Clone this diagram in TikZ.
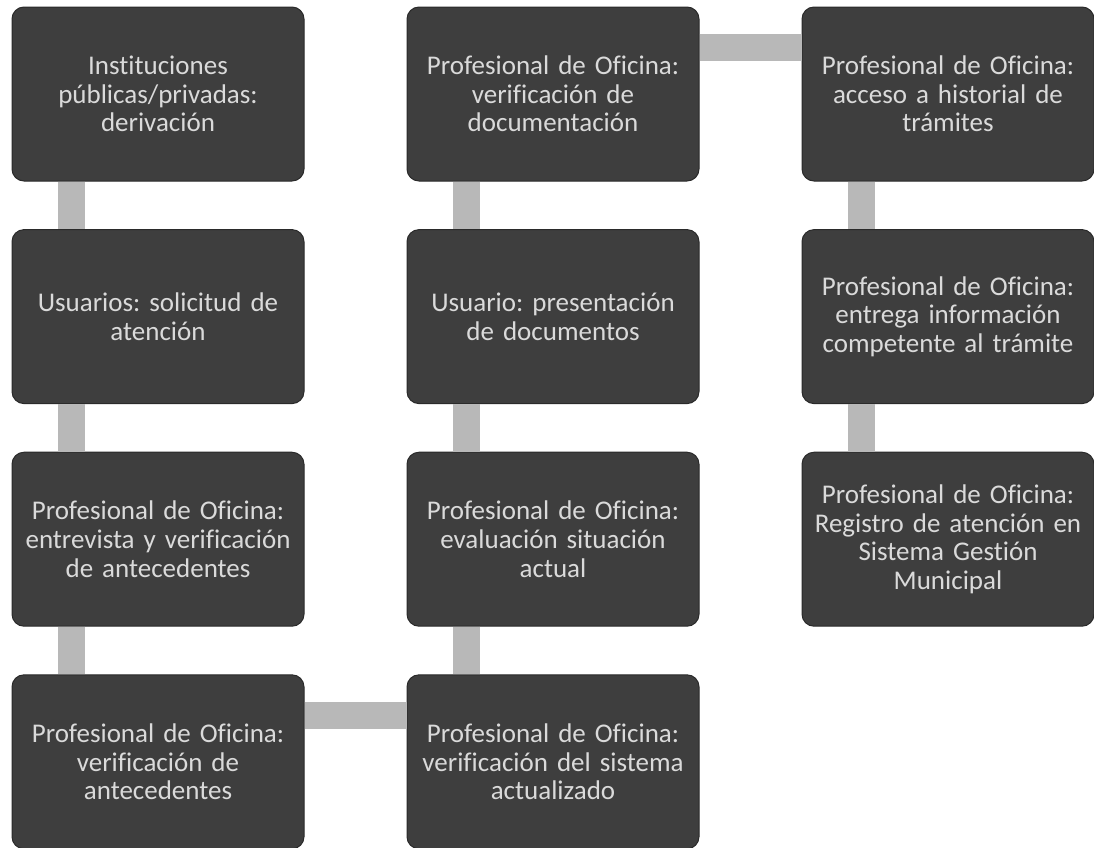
\documentclass[tikz,border=0pt]{standalone}
\usepackage{fontspec}
\setmainfont{Carlito}[Ligatures=NoCommon]
\usepackage{tikz}
\usetikzlibrary{positioning}
\definecolor{boxgray}{HTML}{3E3E3E}
\definecolor{boxline}{HTML}{2A2A2A}
\definecolor{bargray}{HTML}{B8B8B8}
\definecolor{textgray}{HTML}{DADADA}
\tikzset{
    stepbox/.style = {draw=boxline,fill=boxgray,rounded corners=12pt,line width=1pt,
        minimum width=292pt,minimum height=174pt,inner sep=0,
        text width=284pt,align=center,text=textgray,
        font=\fontsize{27}{28.6}\selectfont},
    bar/.style = {draw=bargray,line width=27pt,line cap=butt}
}
\frenchspacing

\begin{document}
\begin{tikzpicture}[x=1pt,y=1pt]
    \newcommand\hsep{395}
    \newcommand\vsep{-222.6}
    \useasboundingbox (0,0) rectangle (1094,-847);
    % Column 1
    \path (158,-94) node[stepbox] (der) {Instituciones\\públicas/privadas:\\derivación}
        to +(0,\vsep) node[stepbox] (sol) {Usuarios: solicitud de\\atención}
        to +(0,2*\vsep) node[stepbox] (ent) {Profesional de Oficina:\\entrevista y verificación\\de antecedentes}
        to +(0,3*\vsep) node[stepbox] (ant) {Profesional de Oficina:\\verificación de\\antecedentes}
    ;
    % Column 2
    \path (der)
        to +(\hsep,0) node[stepbox] (doc) {Profesional de Oficina:\\verificación de\\documentación}
        to +(\hsep,\vsep) node[stepbox] (pre) {Usuario: presentación\\de documentos}
        to +(\hsep,2*\vsep) node[stepbox] (eva) {Profesional de Oficina:\\evaluación situación\\actual}
        to +(\hsep,3*\vsep) node[stepbox] (sis) {Profesional de Oficina:\\verificación del sistema\\actualizado}
    ;
    % Column 3
    \path (der)
        to +(2*\hsep,0) node[stepbox] (his) {Profesional de Oficina:\\acceso a historial de\\trámites}
        to +(2*\hsep,\vsep) node[stepbox] (inf) {Profesional de Oficina:\\entrega información\\competente al trámite}
        to +(2*\hsep,2*\vsep) node[stepbox] (reg) {Profesional de Oficina:\\Registro de atención en\\Sistema Gestión\\Municipal}
    ;
    % Vertical links
    \foreach \src/\dest in {der/sol,sol/ent,ent/ant,doc/pre,pre/eva,eva/sis,his/inf,inf/reg}
        \draw[bar] ([xshift=60pt]\src.south west) to ([xshift=60pt]\dest.north west);
    % Horizontal links
    \foreach \src/\dest in {ant/sis,doc/his}
        \draw[bar] ([yshift=-41pt]\src.north east) to ([yshift=-41pt]\dest.north west);
\end{tikzpicture}
\end{document}
